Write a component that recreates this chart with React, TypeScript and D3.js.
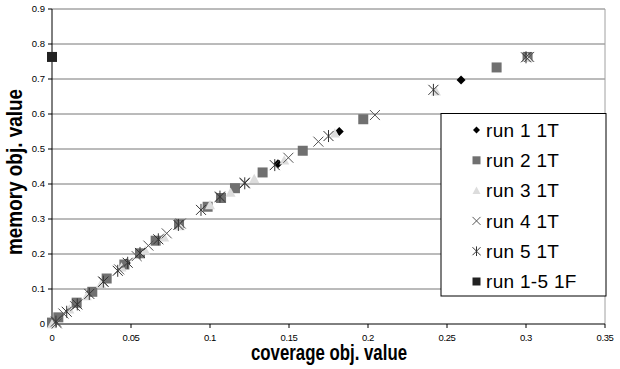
import * as d3 from "d3";

const xTicks = [0, 0.05, 0.1, 0.15, 0.2, 0.25, 0.3, 0.35];
const yTicks = [0, 0.1, 0.2, 0.3, 0.4, 0.5, 0.6, 0.7, 0.8, 0.9];

const seriesNames = ["run 1 1T", "run 2 1T", "run 3 1T", "run 4 1T", "run 5 1T", "run 1-5 1F"];

// [coverage, memory]
const run1 = [
  [0, 0], [0.024, 0.09], [0.047, 0.174], [0.066, 0.238], [0.107, 0.36],
  [0.143, 0.458], [0.1818, 0.55], [0.2589, 0.697], [0.301, 0.763],
];
const run2 = [
  [0, 0.004], [0.004, 0.019], [0.0156, 0.061], [0.0255, 0.092], [0.0346, 0.13],
  [0.0458, 0.17], [0.0557, 0.202], [0.0656, 0.238], [0.0804, 0.285], [0.0985, 0.335],
  [0.107, 0.36], [0.1158, 0.388], [0.1333, 0.433], [0.1587, 0.495], [0.197, 0.585],
  [0.2814, 0.733], [0.301, 0.763],
];
const run3 = [
  [0, 0], [0.011, 0.042], [0.022, 0.08], [0.031, 0.115], [0.044, 0.162],
  [0.059, 0.21], [0.071, 0.248], [0.081, 0.28], [0.1, 0.34], [0.113, 0.376],
  [0.128, 0.415], [0.147, 0.468], [0.179, 0.545], [0.243, 0.665], [0.301, 0.761],
];
const run4 = [
  [0.003, 0.002], [0.0072, 0.03], [0.0146, 0.051], [0.0325, 0.121], [0.0425, 0.156],
  [0.0536, 0.194], [0.061, 0.224], [0.0726, 0.259], [0.0815, 0.287], [0.1063, 0.362],
  [0.122, 0.404], [0.1496, 0.475], [0.1686, 0.521], [0.2044, 0.597], [0.302, 0.763],
];
const run5 = [
  [0.0025, 0.007], [0.0093, 0.035], [0.016, 0.056], [0.0236, 0.086], [0.0325, 0.121],
  [0.0416, 0.152], [0.0479, 0.175], [0.0557, 0.203], [0.0673, 0.242], [0.08, 0.283],
  [0.0943, 0.326], [0.1063, 0.364], [0.122, 0.402], [0.141, 0.454], [0.175, 0.537],
  [0.2414, 0.669], [0.3, 0.762],
];
const run15F = [[0, 0.763]];

const allSeries = [run1, run2, run3, run4, run5, run15F];
const kinds = ["diamond", "square", "triangle", "x", "star", "square"];
const colors = ["#000000", "#707070", "#dcdcdc", "#555555", "#333333", "#222222"];

function markerPath(kind: string, h: number) {
  if (kind === "diamond") return `M0,${-h}L${h},0L0,${h}L${-h},0Z`;
  if (kind === "square") return `M${-h},${-h}H${h}V${h}H${-h}Z`;
  if (kind === "triangle") return `M0,${-h}L${h},${h * 0.85}L${-h},${h * 0.85}Z`;
  if (kind === "x") return `M${-h},${-h}L${h},${h}M${-h},${h}L${h},${-h}`;
  return `M${-h},${-h}L${h},${h}M${-h},${h}L${h},${-h}M0,${-h * 1.2}L0,${h * 1.2}`;
}

function Marker({ kind, color, x, y, h }: { kind: string; color: string; x: number; y: number; h: number }) {
  const stroked = kind === "x" || kind === "star";
  return (
    <path
      transform={`translate(${x},${y})`}
      d={markerPath(kind, h)}
      fill={stroked ? "none" : color}
      stroke={stroked ? color : "none"}
      strokeWidth={stroked ? 1 : 0}
    />
  );
}

export default function App() {
  const width = 620;
  const height = 369;
  const x = d3.scaleLinear().domain([0, 0.35]).range([52, 605]);
  const y = d3.scaleLinear().domain([0, 0.9]).range([324, 9]);
  const fmt = (v: number) => String(+v.toFixed(2));
  const sizes = [4.5, 5, 5, 5, 5, 5];

  return (
    <svg
      width={width}
      height={height}
      style={{ position: "absolute", left: 0, top: 0, background: "#fff" }}
      fontFamily="'Liberation Sans', Arial, sans-serif"
    >
      {yTicks.slice(1).map((t) => (
        <line key={t} x1={x(0)} x2={x(0.35)} y1={y(t)} y2={y(t)} stroke="#777" strokeWidth={1} />
      ))}
      <line x1={x(0.35)} x2={x(0.35)} y1={y(0.9)} y2={y(0)} stroke="#a0a0a0" strokeWidth={1} />
      <line x1={x(0)} x2={x(0)} y1={y(0.9)} y2={y(0)} stroke="#000" strokeWidth={1} />
      <line x1={x(0)} x2={x(0.35)} y1={y(0)} y2={y(0)} stroke="#000" strokeWidth={1} />
      {yTicks.map((t) => (
        <g key={t}>
          <line x1={x(0) - 4} x2={x(0)} y1={y(t)} y2={y(t)} stroke="#000" />
          <text x={45} y={y(t)} dy="0.35em" textAnchor="end" fontSize={9.5} fill="#000">
            {fmt(t)}
          </text>
        </g>
      ))}
      {xTicks.map((t) => (
        <g key={t}>
          <line x1={x(t)} x2={x(t)} y1={y(0)} y2={y(0) + 4} stroke="#000" />
          <text x={x(t)} y={340.5} textAnchor="middle" fontSize={9.5} fill="#000" letterSpacing={-0.4}>
            {fmt(t)}
          </text>
        </g>
      ))}
      <text
        x={329}
        y={360}
        textAnchor="middle"
        fontSize={21.5}
        fontWeight="bold"
        textLength={156}
        lengthAdjust="spacingAndGlyphs"
      >
        coverage obj. value
      </text>
      <text
        transform="translate(22,172) rotate(-90)"
        textAnchor="middle"
        fontSize={21.5}
        fontWeight="bold"
        textLength={166}
        lengthAdjust="spacingAndGlyphs"
      >
        memory obj. value
      </text>
      {allSeries.map((s, i) => (
        <g key={i}>
          {s.map((d, j) => (
            <Marker key={j} kind={kinds[i]} color={colors[i]} x={x(d[0])} y={y(d[1])} h={sizes[i]} />
          ))}
        </g>
      ))}
      <rect x={441} y={113.5} width={165} height={182.5} fill="#fff" stroke="#000" strokeWidth={1} />
      {seriesNames.map((name, i) => (
        <g key={name} transform={`translate(0,${130 + i * 30.3})`}>
          <Marker kind={kinds[i]} color={colors[i]} x={476.5} y={0} h={i === 0 ? 3.5 : 4} />
          <text x={486} y={0} dy="0.36em" fontSize={19} fill="#000" letterSpacing={0.3}>
            {name}
          </text>
        </g>
      ))}
    </svg>
  );
}
